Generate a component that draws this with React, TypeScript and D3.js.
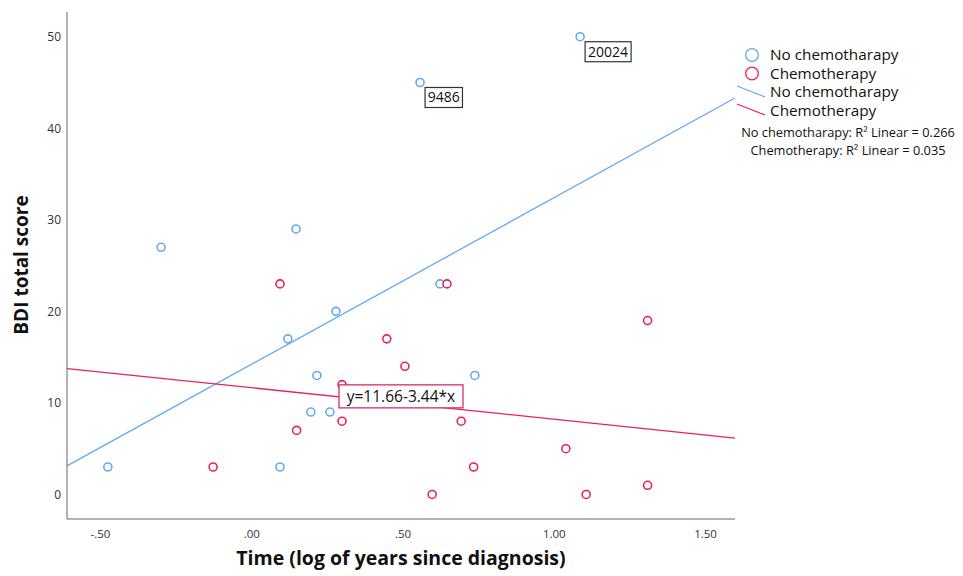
import * as d3 from 'd3';
import { useEffect, useRef } from 'react';

// No chemotherapy group
const noChemoX = [-0.474, -0.298, 0.148, 0.558, 1.087, 0.121, 0.28, 0.217, 0.197, 0.26, 0.095, 0.624, 0.739, 0.598];
const noChemoY = [3, 27, 29, 45, 50, 17, 20, 13, 9, 9, 3, 23, 13, 11];
const noChemoIds = ['', '', '', '9486', '20024', '', '', '', '', '', '', '', '', ''];

// Chemotherapy group
const chemoX = [0.095, 0.647, 0.448, 0.508, 0.3, 0.3, 0.15, -0.126, 0.694, 1.04, 0.735, 0.598, 1.107, 1.31, 1.31];
const chemoY = [23, 23, 17, 14, 12, 8, 7, 3, 8, 5, 3, 0, 0, 19, 1];

// fit lines (intercept, slope)
const noChemoFit = [14.2, 18.2];
const chemoFit = [11.66, -3.44];
const chemoEquation = 'y=11.66-3.44*x';

const xTicks = [-0.5, 0, 0.5, 1, 1.5];
const yTicks = [0, 10, 20, 30, 40, 50];
const legendLabels = ['No chemotharapy', 'Chemotherapy'];
const r2Labels = ['No chemotharapy', 'Chemotherapy'];
const r2Values = ['0.266', '0.035'];

const BLUE = '#62aaf0';
const RED = '#e8235a';
const FONT = '"Open Sans", "DejaVu Sans", sans-serif';

export default function App() {
  const ref = useRef<SVGSVGElement>(null);

  useEffect(() => {
    const svg = d3.select(ref.current);
    svg.selectAll('*').remove();

    const margin = { top: 12, right: 228, bottom: 57, left: 67 };
    const width = 963;
    const height = 576;

    const x = d3.scaleLinear().domain([-0.609, 1.599]).range([margin.left, width - margin.right]);
    const y = d3.scaleLinear().domain([-2.68, 52.7]).range([height - margin.bottom, margin.top]);

    // SPSS style: -.50, .00, .50, 1.00
    const fmtX = (d: number) => {
      const s = Math.abs(d).toFixed(2).replace(/^0\./, '.');
      return (d < 0 ? '-' : '') + s;
    };

    // axes
    svg
      .append('g')
      .attr('transform', `translate(0,${height - margin.bottom})`)
      .call(d3.axisBottom(x).tickValues(xTicks).tickFormat(fmtX as any).tickSize(0).tickPadding(11))
      .call((g) => g.select('.domain').attr('stroke', '#666').attr('d', `M${margin.left},0H${width - margin.right}`))
      .call((g) => g.selectAll('text').attr('fill', '#333').style('font-family', FONT).style('font-size', '11.5px'));

    svg
      .append('g')
      .attr('transform', `translate(${margin.left},0)`)
      .call(d3.axisLeft(y).tickValues(yTicks).tickFormat(d3.format('d') as any).tickSize(0).tickPadding(6))
      .call((g) => g.select('.domain').attr('stroke', '#666').attr('d', `M0,${margin.top}V${height - margin.bottom}`))
      .call((g) => g.selectAll('text').attr('fill', '#333').style('font-family', FONT).style('font-size', '12px'));

    // axis titles
    svg
      .append('text')
      .attr('x', 401)
      .attr('y', 565)
      .attr('text-anchor', 'middle')
      .style('font-family', FONT)
      .style('font-weight', 'bold')
      .style('font-size', '19.5px')
      .attr('fill', '#111')
      .text('Time (log of years since diagnosis)');

    svg
      .append('text')
      .attr('transform', 'translate(28,265) rotate(-90)')
      .attr('text-anchor', 'middle')
      .style('font-family', FONT)
      .style('font-weight', 'bold')
      .style('font-size', '19px')
      .attr('fill', '#111')
      .text('BDI total score');

    const plot = svg.append('g');

    // fit lines
    const [x0, x1] = x.domain();
    const fitLine = (fit: number[], color: string) =>
      plot
        .append('line')
        .attr('x1', x(x0))
        .attr('y1', y(fit[0] + fit[1] * x0))
        .attr('x2', x(x1))
        .attr('y2', y(fit[0] + fit[1] * x1))
        .attr('stroke', color)
        .attr('stroke-width', 1.3);
    fitLine(noChemoFit, BLUE);
    fitLine(chemoFit, RED);

    // points
    const blue = noChemoX.map((d, i) => ({ x: d, y: noChemoY[i], id: noChemoIds[i] }));
    const red = chemoX.map((d, i) => ({ x: d, y: chemoY[i] }));

    plot
      .selectAll('.blue')
      .data(blue)
      .join('circle')
      .attr('class', 'blue')
      .attr('cx', (d) => x(d.x))
      .attr('cy', (d) => y(d.y))
      .attr('r', 4)
      .attr('fill', 'white')
      .attr('stroke', BLUE)
      .attr('stroke-width', 1.6);

    plot
      .selectAll('.red')
      .data(red)
      .join('circle')
      .attr('class', 'red')
      .attr('cx', (d) => x(d.x))
      .attr('cy', (d) => y(d.y))
      .attr('r', 4)
      .attr('fill', 'white')
      .attr('stroke', RED)
      .attr('stroke-width', 1.6);

    // case labels
    const labels = plot
      .selectAll('.case')
      .data(blue.filter((d) => d.id))
      .join('g')
      .attr('class', 'case')
      .attr('transform', (d) => `translate(${x(d.x) + 5},${y(d.y) + 5})`);
    labels.each(function (d) {
      const g = d3.select(this);
      const w = d.id.length * 8.6 + 3;
      g.append('rect').attr('width', w).attr('height', 20).attr('fill', 'white').attr('stroke', '#333').attr('stroke-width', 1.2);
      g.append('text')
        .attr('x', w / 2)
        .attr('y', 15)
        .attr('text-anchor', 'middle')
        .style('font-family', FONT)
        .style('font-size', '14px')
        .attr('fill', '#111')
        .text(d.id);
    });

    // equation label on chemo line
    const eqX = x(0.29);
    const eq = plot.append('g').attr('transform', `translate(${eqX},${y(chemoFit[0] + chemoFit[1] * 0.29) - 12})`);
    eq.append('rect').attr('width', 124).attr('height', 23).attr('fill', 'white').attr('stroke', '#d63c78').attr('stroke-width', 1.4);
    eq.append('text')
      .attr('x', 62)
      .attr('y', 17)
      .attr('text-anchor', 'middle')
      .style('font-family', FONT)
      .style('font-size', '15.5px')
      .attr('fill', '#111')
      .text(chemoEquation);

    // legend
    const lg = svg.append('g').style('font-family', FONT).style('font-size', '15.3px');
    [BLUE, RED].forEach((c, i) => {
      lg.append('circle').attr('cx', 752).attr('cy', 55 + i * 18.5).attr('r', 6.3).attr('fill', 'white').attr('stroke', c).attr('stroke-width', 1.3);
      lg.append('text').attr('x', 770).attr('y', 60 + i * 18.5).attr('fill', '#111').text(legendLabels[i]);
    });
    [BLUE, RED].forEach((c, i) => {
      lg.append('line').attr('x1', 737).attr('y1', 86 + i * 18).attr('x2', 765).attr('y2', 97 + i * 18).attr('stroke', c).attr('stroke-width', 1.3);
      lg.append('text').attr('x', 770).attr('y', 97 + i * 18.5).attr('fill', '#111').text(legendLabels[i]);
    });

    r2Labels.forEach((lab, i) => {
      lg.append('text')
        .attr('x', 848)
        .attr('y', 137 + i * 17.5)
        .attr('text-anchor', 'middle')
        .style('font-size', '12.8px')
        .attr('fill', '#111')
        .text(`${lab}: R\u00b2 Linear = ${r2Values[i]}`);
    });
  }, []);

  return (
    <svg
      ref={ref}
      width={963}
      height={576}
      style={{ position: 'absolute', left: 0, top: 0, background: 'white' }}
    />
  );
}
